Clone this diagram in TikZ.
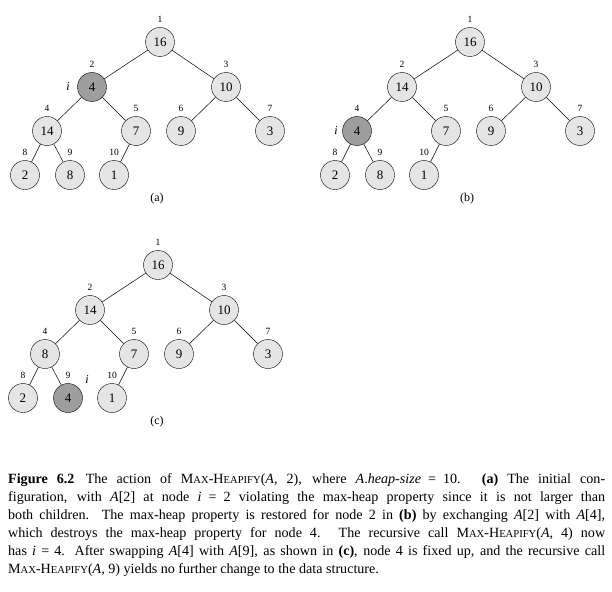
\documentclass[tikz,border=0pt]{standalone}
\usepackage{fontspec}
\setmainfont{Liberation Serif}
\tikzset{
  hnode/.style={circle,draw,fill=black!10,minimum size=29pt,inner sep=0pt,font=\fontsize{13}{13}\selectfont},
  hdark/.style={hnode,fill=black!38},
  idx/.style={font=\fontsize{9.5}{9.5}\selectfont,inner sep=0pt},
  edge/.style={draw,line width=0.5pt}
}
\newcommand\sck[1]{{\fontsize{10.6}{10.6}\selectfont #1}}
\newcommand\mh{M\sck{AX}-H\sck{EAPIFY}}
\newcommand\ia{\textit{A}}
\newcommand\eqs{\enspace=\enspace}
\newcommand\heaptree[5]{%
  \begin{scope}[shift={(#2,#3)}]
  \foreach \k/\x/\y/\v [count=\c] in {#4}{
    \ifnum\c=#5\relax
      \node[hdark] (#1\k) at (\x,\y) {\v};
    \else
      \node[hnode] (#1\k) at (\x,\y) {\v};
    \fi
    \node[idx] (#1l\k) at (\x,\y-23) {\k};
  }
  \foreach \p/\q in {1/2,1/3,2/4,2/5,3/6,3/7,4/8,4/9,5/10}
    \draw[edge] (#1\p) -- (#1\q);
  \end{scope}}
\begin{document}
\begin{tikzpicture}[x=1pt,y=-1pt]
\useasboundingbox (0,0) rectangle (612,591);
\heaptree{a}{0}{0}{1/160/42/16,2/92/87/4,3/226/87/10,4/47/131/14,5/136/131/7,6/181/131/9,7/270/131/3,8/25/175/2,9/70/175/8,10/114/175/1}{2}
\node[font=\fontsize{12}{12}\selectfont] (capa) at (157,199) {(a)};
\node[font=\itshape\fontsize{12}{12}\selectfont] (ia) at (68,87) {i};
\heaptree{b}{310}{0}{1/160/42/16,2/92/87/14,3/226/87/10,4/47/131/4,5/136/131/7,6/181/131/9,7/270/131/3,8/25/175/2,9/70/175/8,10/114/175/1}{4}
\node[font=\fontsize{12}{12}\selectfont] (capb) at (467,199) {(b)};
\node[font=\itshape\fontsize{12}{12}\selectfont] (ib) at (336,131) {i};
\heaptree{c}{-2}{223}{1/160/42/16,2/92/87/14,3/226/87/10,4/47/131/8,5/136/131/7,6/181/131/9,7/270/131/3,8/25/175/2,9/70/175/4,10/114/175/1}{9}
\node[font=\fontsize{12}{12}\selectfont] (capc) at (157,422) {(c)};
\node[font=\itshape\fontsize{12}{12}\selectfont] (ic) at (87,380) {i};
\node[anchor=north west,text width=597pt,inner sep=0pt,align=justify,
  font=\fontsize{14.1}{18}\selectfont] (cap) at (8,473) {%
\textbf{Figure 6.2}\hspace{0.8em}The action of \mh(\ia, 2), where \ia.\textit{heap-size}\eqs10. \textbf{(a)} The initial con-\linebreak figuration, with \ia[2] at node \textit{i}\eqs2 violating the max-heap property since it is not larger than\linebreak both children. The max-heap property is restored for node 2 in \textbf{(b)} by exchanging \ia[2] with \ia[4],\linebreak which destroys the max-heap property for node 4. The recursive call \mh(\ia, 4) now\linebreak has \textit{i} = 4. After swapping \ia[4] with \ia[9], as shown in \textbf{(c)}, node 4 is fixed up, and the recursive call\linebreak \mh(\ia, 9) yields no further change to the data structure.};
\end{tikzpicture}
\end{document}
